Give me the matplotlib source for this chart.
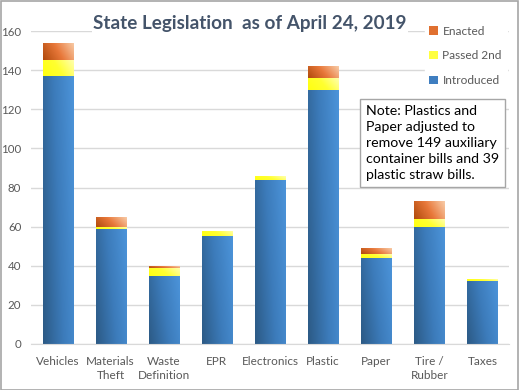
import numpy as np
import matplotlib
matplotlib.use("Agg")
import matplotlib.pyplot as plt
from matplotlib.colors import LinearSegmentedColormap
from matplotlib.patches import Rectangle

categories = ["Vehicles", "Materials\nTheft", "Waste\nDefinition", "EPR", "Electronics",
              "Plastic", "Paper", "Tire /\nRubber", "Taxes"]
introduced = [137, 59, 35, 55, 84, 130, 44, 60, 32]
passed_2nd = [8, 1, 4, 3, 2, 6, 2, 4, 1]
enacted = [9, 5, 1, 0, 0, 6, 3, 9, 0]
y_ticks = [0, 20, 40, 60, 80, 100, 120, 140, 160]

plt.rcParams['font.family'] = ['Lato', 'DejaVu Sans']

fig = plt.figure(figsize=(5.19, 3.90), dpi=100)
ax = fig.add_axes([31/519, 46/390, 478/519, 313/390])

x = np.arange(len(categories))
w = 0.566

cmaps = {
    "Introduced": LinearSegmentedColormap.from_list("i", ["#2C5A85", "#3C7BBA", "#4C94DA"]),
    "Passed 2nd": LinearSegmentedColormap.from_list("p", ["#FFFF10", "#FFFF30", "#FFFFB0"]),
    "Enacted": LinearSegmentedColormap.from_list("e", ["#B04A0C", "#E8783A", "#F8CCA8"]),
}
solid = {"Introduced": "#3F7EC0", "Passed 2nd": "#FFFF40", "Enacted": "#E07030"}

gx, gy = np.meshgrid(np.linspace(0, 1, 64), np.linspace(0, 1, 64))
grad = (gx * 0.75 + gy * 0.25)

bottoms = np.zeros(len(categories))
for name, vals in [("Introduced", introduced), ("Passed 2nd", passed_2nd), ("Enacted", enacted)]:
    bars = ax.bar(x, vals, w, bottom=bottoms, color=solid[name], label=name, zorder=2, linewidth=0)
    for b, v in zip(bars, vals):
        if v <= 0:
            continue
        x0, y0 = b.get_x(), b.get_y()
        im = ax.imshow(grad, cmap=cmaps[name], extent=[x0, x0 + b.get_width(), y0 + b.get_height(), y0],
                       origin="upper", aspect="auto", zorder=2.5, interpolation="bilinear")
        im.set_clip_path(b)
    bottoms += np.array(vals)

ax.set_xlim(-0.5, len(categories) - 0.5)
ax.set_ylim(0, 160)
ax.set_yticks(y_ticks)
ax.set_xticks(x)
ax.set_xticklabels(categories, fontsize=8.5, color="#595959", linespacing=1.3)
ax.tick_params(axis="y", labelsize=8.3, labelcolor="#595959", length=0, pad=7)
ax.tick_params(axis="x", length=0, pad=8.5)
ax.grid(axis="y", color="#D9D9D9", linewidth=1, zorder=0)
ax.set_axisbelow(True)
for s in ["top", "right", "left"]:
    ax.spines[s].set_visible(False)
ax.spines["bottom"].set_color("#D9D9D9")

handles, labels = ax.get_legend_handles_labels()
leg = ax.legend(handles[::-1], labels[::-1], loc="upper right", bbox_to_anchor=(1.0, 1.04),
                frameon=True, fontsize=8.6, handlelength=0.7, handleheight=0.7, handletextpad=0.4,
                labelspacing=1.15, borderaxespad=0.2, edgecolor="white", framealpha=1)
for t in leg.get_texts():
    t.set_color("#595959")
leg.set_zorder(5)

fig.text(0.482, 0.941, "State Legislation  as of April 24, 2019", ha="center", va="center",
         fontsize=13.6, fontweight="bold", color="#44546A",
         bbox=dict(facecolor="white", edgecolor="none", pad=1))

fig.text(366/519, 1 - 143/390, "Note: Plastics and\nPaper adjusted to\nremove 149 auxiliary\ncontainer bills and 39\nplastic straw bills.",
         ha="left", va="center", fontsize=10.2, color="black", linespacing=1.42, zorder=6,
         bbox=dict(facecolor="white", edgecolor="#A6A6A6", boxstyle="square,pad=0.4", linewidth=1))

fig.patches.append(Rectangle((0.001, 0.001), 0.997, 0.997, transform=fig.transFigure,
                             fill=False, edgecolor="#A6A6A6", linewidth=1.2))

fig.savefig("out.png", dpi=100)
